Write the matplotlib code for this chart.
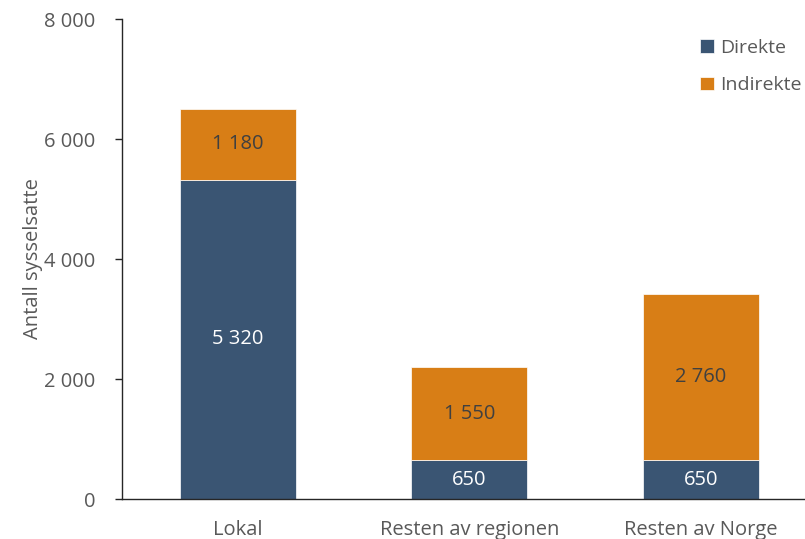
import matplotlib

matplotlib.use("Agg")
import matplotlib.pyplot as plt
from matplotlib.ticker import FuncFormatter

plt.rcParams["font.family"] = ["Open Sans", "DejaVu Sans"]

categories = ["Lokal", "Resten av regionen", "Resten av Norge"]
direkte = [5320, 650, 650]
indirekte = [1180, 1550, 2760]

BLUE = "#3A5573"
ORANGE = "#D87E16"
GREY = "#595959"


def thousands(v, _pos=None):
    return f"{int(v):,}".replace(",", " ")


fig = plt.figure(figsize=(8.05, 5.39), dpi=100)
ax = fig.add_axes([0.1516, 0.0742, 0.8484, 0.8905])

x = list(range(len(categories)))
ax.bar(x, direkte, width=0.5, color=BLUE, edgecolor="white", linewidth=0.5, label="Direkte")
ax.bar(x, indirekte, width=0.5, bottom=direkte, color=ORANGE, edgecolor="white",
       linewidth=0.5, label="Indirekte")

for xi, d, i in zip(x, direkte, indirekte):
    ax.text(xi, d / 2, thousands(d), ha="center", va="center", color="white", fontsize=14.5)
    ax.text(xi, d + i / 2, thousands(i), ha="center", va="center", color="#404040",
            fontsize=14.5)

ax.set_xlim(-0.5, 2.45)
ax.set_ylim(0, 8000)
ax.set_yticks(range(0, 8001, 2000))
ax.yaxis.set_major_formatter(FuncFormatter(thousands))
ax.set_xticks(x)
ax.set_xticklabels(categories)
ax.tick_params(axis="y", direction="out", length=5, width=1, colors="#262626",
               labelcolor=GREY, labelsize=14.5, pad=14)
ax.tick_params(axis="x", length=0, labelcolor=GREY, labelsize=14.5, pad=15)

for side in ("top", "right"):
    ax.spines[side].set_visible(False)
for side in ("left", "bottom"):
    ax.spines[side].set_color("#262626")
    ax.spines[side].set_linewidth(1)

ax.set_ylabel("Antall sysselsatte", color=GREY, fontsize=14.5, labelpad=1)

ax.legend(loc="upper right", frameon=False, fontsize=14, handlelength=0.7,
          handleheight=0.7, handletextpad=0.3, labelspacing=1.0,
          bbox_to_anchor=(1.02, 0.995), labelcolor=GREY)

fig.savefig("out.png", dpi=100)
